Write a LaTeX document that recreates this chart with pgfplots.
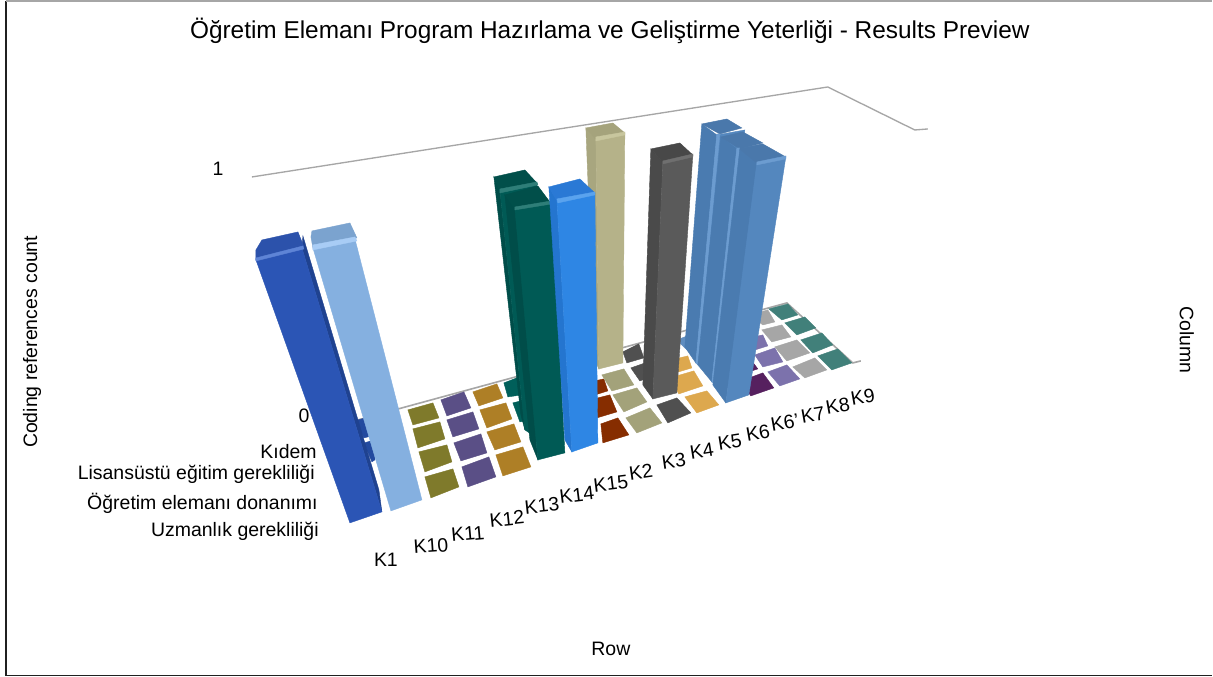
\documentclass[border=0pt]{standalone}
\usepackage{fontspec}
\setmainfont{Liberation Sans}
\usepackage{pgfplots}
\pgfplotsset{compat=1.18}

\definecolor{frameline}{HTML}{202020}
\definecolor{wallline}{HTML}{A6A6A6}
% floor cells
\definecolor{cblue}{HTML}{234A9F}
\definecolor{colive}{HTML}{7F7A2B}
\definecolor{cpurple}{HTML}{5A4F86}
\definecolor{camber}{HTML}{AE7F26}
\definecolor{cteal}{HTML}{005F5A}
\definecolor{crust}{HTML}{862D00}
\definecolor{ctan}{HTML}{A3A27A}
\definecolor{cdark}{HTML}{505050}
\definecolor{cyell}{HTML}{DDA84E}
\definecolor{csteel}{HTML}{5F8DC0}
\definecolor{cplum}{HTML}{56205F}
\definecolor{clilac}{HTML}{7C72AC}
\definecolor{cgray}{HTML}{A6A6A6}
\definecolor{cgreen}{HTML}{41807A}
% bars: side, face, cap, bevel
\definecolor{tanS}{HTML}{A8A67F}
\definecolor{tanF}{HTML}{B5B289}
\definecolor{tanC}{HTML}{A5A37C}
\definecolor{tanH}{HTML}{C8C69E}
\definecolor{tealS}{HTML}{004D49}
\definecolor{tealF}{HTML}{005A55}
\definecolor{tealC}{HTML}{014F4A}
\definecolor{tealH}{HTML}{2E7E78}
\definecolor{brightS}{HTML}{2475CF}
\definecolor{brightF}{HTML}{2E86E4}
\definecolor{brightC}{HTML}{2A79D5}
\definecolor{brightH}{HTML}{5AA3EE}
\definecolor{darkS}{HTML}{4A4A4A}
\definecolor{darkF}{HTML}{5A5A5A}
\definecolor{darkC}{HTML}{484848}
\definecolor{darkH}{HTML}{6F6F6F}
\definecolor{steelS}{HTML}{4A7BB0}
\definecolor{steelF}{HTML}{5487BE}
\definecolor{steelC}{HTML}{4A78AB}
\definecolor{steelH}{HTML}{6C9CD0}
\definecolor{lightF}{HTML}{85B0E0}
\definecolor{lightC}{HTML}{7BA3CF}
\definecolor{lightH}{HTML}{A8CCF5}
\definecolor{blueS}{HTML}{1F4290}
\definecolor{blueF}{HTML}{2B55B5}
\definecolor{blueC}{HTML}{2C52AB}
\definecolor{blueH}{HTML}{5E84D6}

% one filled polygon, corners in picture pixels; thin same-colour edge closes seams
\newcommand{\poly}[2]{\addplot[draw=#1,line width=0.3pt,fill=#1,forget plot] coordinates {#2} --cycle;}
\tikzset{lab/.style={font=\fontsize{14.6}{17}\selectfont}}

\begin{document}
\begin{tikzpicture}
\begin{axis}[
  scale only axis,
  width=909.75pt,
  height=507.75pt,
  xmin=0, xmax=1213,
  ymin=0, ymax=677,
  y dir=reverse,
  axis lines=none,
  clip=false,
]
% page area
\addplot[draw=none,fill=white,forget plot] coordinates {(0,0) (1213,0) (1213,677) (0,677)} --cycle;
% frame of the picture
\addplot[frameline,line width=1.2pt,forget plot] coordinates {(6,1) (6,675.5) (1212.5,675.5)};
\addplot[wallline,line width=1pt,forget plot] coordinates {(6,1) (1212.5,1)};

% wall and floor edges
\addplot[wallline,line width=1pt,forget plot] coordinates {(252,177) (828,87) (915,130) (928,129)};
\addplot[wallline,line width=1.2pt,forget plot] coordinates {(358,420) (787,303) (853,363) (861,361)};

% floor cells, flat (value 0)
\poly{cblue}{(355,421) (372,416) (372,436) (364,438)}
\poly{cblue}{(364,443) (375,440) (375,460) (372,462)}
\poly{colive}{(408,410) (433,403) (439,418) (413,425)}
\poly{colive}{(413,429) (440,422) (445,439) (418,448)}
\poly{colive}{(419,452) (447,445) (452,462) (425,472)}
\poly{colive}{(425,477) (453,469) (459,487) (431,498)}
\poly{cpurple}{(441,400) (464,392) (471,408) (447,416)}
\poly{cpurple}{(447,420) (473,412) (479,429) (453,437)}
\poly{cpurple}{(454,443) (481,434) (487,453) (461,461)}
\poly{cpurple}{(462,467) (489,457) (496,477) (468,487)}
\poly{camber}{(473,392) (497,384) (503,398) (479,406)}
\poly{camber}{(480,410) (506,403) (512,419) (487,428)}
\poly{camber}{(487,432) (514,424) (521,442) (495,450)}
\poly{camber}{(496,455) (523,447) (531,467) (503,476)}
\poly{cteal}{(504,383) (517,378) (522,395) (508,397)}
\poly{cteal}{(513,403) (525,400) (530,420) (520,422)}
\poly{crust}{(585,383) (604,379) (608,391) (592,396)}
\poly{crust}{(590,400) (610,395) (617,412) (597,418)}
\poly{crust}{(601,424) (618,418) (629,435) (603,443)}
\poly{ctan}{(602,375) (624,369) (634,385) (612,391)}
\poly{ctan}{(613,395) (637,388) (647,402) (624,412)}
\poly{ctan}{(626,418) (650,408) (662,423) (637,433)}
\poly{cdark}{(623,352) (639,344) (644,358) (627,363)}
\poly{cdark}{(631,368) (651,361) (660,374) (640,381)}
\poly{cdark}{(657,405) (677,398) (691,413) (668,423)}
\poly{csteel}{(677,340) (690,335) (690,352) (685,348)}
\poly{cyell}{(667,361) (688,356) (692,368) (672,374)}
\poly{cyell}{(670,378) (694,371) (703,386) (679,394)}
\poly{cyell}{(685,397) (707,391) (719,405) (697,413)}
\poly{cplum}{(730,362) (749,357) (758,369) (737,376)}
\poly{cplum}{(741,381) (763,373) (774,388) (751,396)}
\poly{clilac}{(745,339) (763,335) (768,346) (752,351)}
\poly{clilac}{(755,355) (775,348) (783,362) (763,367)}
\poly{clilac}{(768,372) (787,365) (800,379) (780,386)}
\poly{cgray}{(750,315) (768,310) (775,322) (763,325)}
\poly{cgray}{(762,330) (782,325) (791,337) (772,342)}
\poly{cgray}{(775,347) (797,340) (810,353) (787,361)}
\poly{cgray}{(793,367) (815,358) (827,370) (805,378)}
\poly{cgreen}{(769,309) (788,304) (798,315) (782,320)}
\poly{cgreen}{(785,323) (805,317) (816,328) (797,335)}
\poly{cgreen}{(801,340) (822,333) (833,345) (813,353)}
\poly{cgreen}{(818,356) (838,349) (852,363) (832,370)}

% tan bar
\poly{tanS}{(586,128) (596,138) (599,369) (595,360)}
\poly{tanF}{(596,138) (625,133) (623,363) (599,369)}
\poly{tanC}{(586,128) (613,123) (625,133) (596,139)}
\poly{tanH}{(596,137) (625,132) (625,135) (596,141)}

% teal bars, back then front
\poly{tealS}{(494,177) (500,190) (525,430) (521,415)}
\poly{tealF}{(500,190) (537,183) (540,440) (525,430)}
\poly{tealC}{(494,177) (525,170) (537,183) (500,191)}
\poly{tealH}{(500,189) (537,182) (538,185) (500,193)}
\poly{tealS}{(505,195) (515,209) (538,460) (530,440)}
\poly{tealF}{(515,209) (552,203) (565,453) (538,460)}
\poly{tealC}{(505,195) (538,186) (550,202) (515,209)}
\poly{tealH}{(515,207) (551,201) (552,204) (515,210)}

% bright blue bar
\poly{brightS}{(549,187) (557,200) (572,452) (565,440)}
\poly{brightF}{(557,200) (595,193) (598,443) (572,452)}
\poly{brightC}{(549,187) (580,179) (595,193) (557,201)}
\poly{brightH}{(557,199) (595,192) (595,195) (558,203)}

% dark bar
\poly{darkS}{(651,149) (663,162) (653,399) (643,385)}
\poly{darkF}{(663,162) (693,155) (677,393) (653,399)}
\poly{darkC}{(651,149) (680,143) (693,155) (663,162)}
\poly{darkH}{(663,161) (693,154) (693,157) (663,164)}

% steel bars, back to front
\poly{steelS}{(702,124) (717,135) (696,363) (685,347)}
\poly{steelF}{(717,135) (745,130) (720,370) (696,363)}
\poly{steelC}{(702,124) (727,119) (742,128) (720,134)}
\poly{steelH}{(717,134) (720,134) (698,365) (696,363)}
\poly{steelS}{(721,137) (737,149) (712,382) (698,365)}
\poly{steelF}{(737,149) (763,144) (735,385) (712,382)}
\poly{steelC}{(721,137) (743,132) (763,143) (740,149)}
\poly{steelH}{(737,148) (740,148) (715,384) (712,382)}
\poly{steelS}{(740,149) (757,163) (726,403) (713,385)}
\poly{steelF}{(757,163) (786,157) (749,395) (726,403)}
\poly{steelC}{(740,149) (763,144) (786,157) (757,163)}
\poly{steelH}{(757,162) (786,156) (786,159) (757,165)}

% light blue bar
\poly{lightF}{(313,248) (355,239) (422,500) (391,511)}
\poly{lightC}{(311,237) (312,231) (350,223) (357,238) (313,248)}
\poly{lightH}{(313,245) (355,237) (357,241) (313,250)}

% dark blue bar
\poly{blueS}{(303,236) (302,248) (382,512) (379,490)}
\poly{blueF}{(256,260) (302,248) (382,512) (350,523)}
\poly{blueC}{(256,260) (256,250) (262,240) (298,232) (304,247)}
\poly{blueH}{(256,258) (303,246) (304,249) (256,261)}

% text
\node[font=\fontsize{18.3}{21}\selectfont] at (axis cs:610,31) {Öğretim Elemanı Program Hazırlama ve Geliştirme Yeterliği - Results Preview};
\node[lab,rotate=90] at (axis cs:32,342) {Coding references count};
\node[lab,rotate=-90] at (axis cs:1187,340) {Column};
\node[lab] at (axis cs:611,649) {Row};
\node[lab] at (axis cs:218,169) {1};
\node[lab] at (axis cs:304,416) {0};
\node[lab,anchor=east,inner sep=0pt] at (axis cs:317,452) {Kıdem};
\node[lab,anchor=east,inner sep=0pt] at (axis cs:315,474) {Lisansüstü eğitim gerekliliği};
\node[lab,anchor=east,inner sep=0pt] at (axis cs:318,503) {Öğretim elemanı donanımı};
\node[lab,anchor=east,inner sep=0pt] at (axis cs:319,531) {Uzmanlık gerekliliği};
\node[lab] at (axis cs:386,560) {K1};
\node[lab,rotate=4] at (axis cs:431,546) {K10};
\node[lab,rotate=5] at (axis cs:468,534) {K11};
\node[lab,rotate=6] at (axis cs:507,519) {K12};
\node[lab,rotate=6] at (axis cs:542,506) {K13};
\node[lab,rotate=7] at (axis cs:577,495) {K14};
\node[lab,rotate=7] at (axis cs:611,484) {K15};
\node[lab,rotate=8] at (axis cs:641,472) {K2};
\node[lab,rotate=8] at (axis cs:674,461) {K3};
\node[lab,rotate=9] at (axis cs:702,451) {K4};
\node[lab,rotate=9] at (axis cs:730,442) {K5};
\node[lab,rotate=10] at (axis cs:758,433) {K6};
\node[lab,rotate=10] at (axis cs:785,423) {K6'};
\node[lab,rotate=10] at (axis cs:813,415) {K7};
\node[lab,rotate=10] at (axis cs:838,406) {K8};
\node[lab,rotate=10] at (axis cs:863,397) {K9};
\end{axis}
\end{tikzpicture}
\end{document}
